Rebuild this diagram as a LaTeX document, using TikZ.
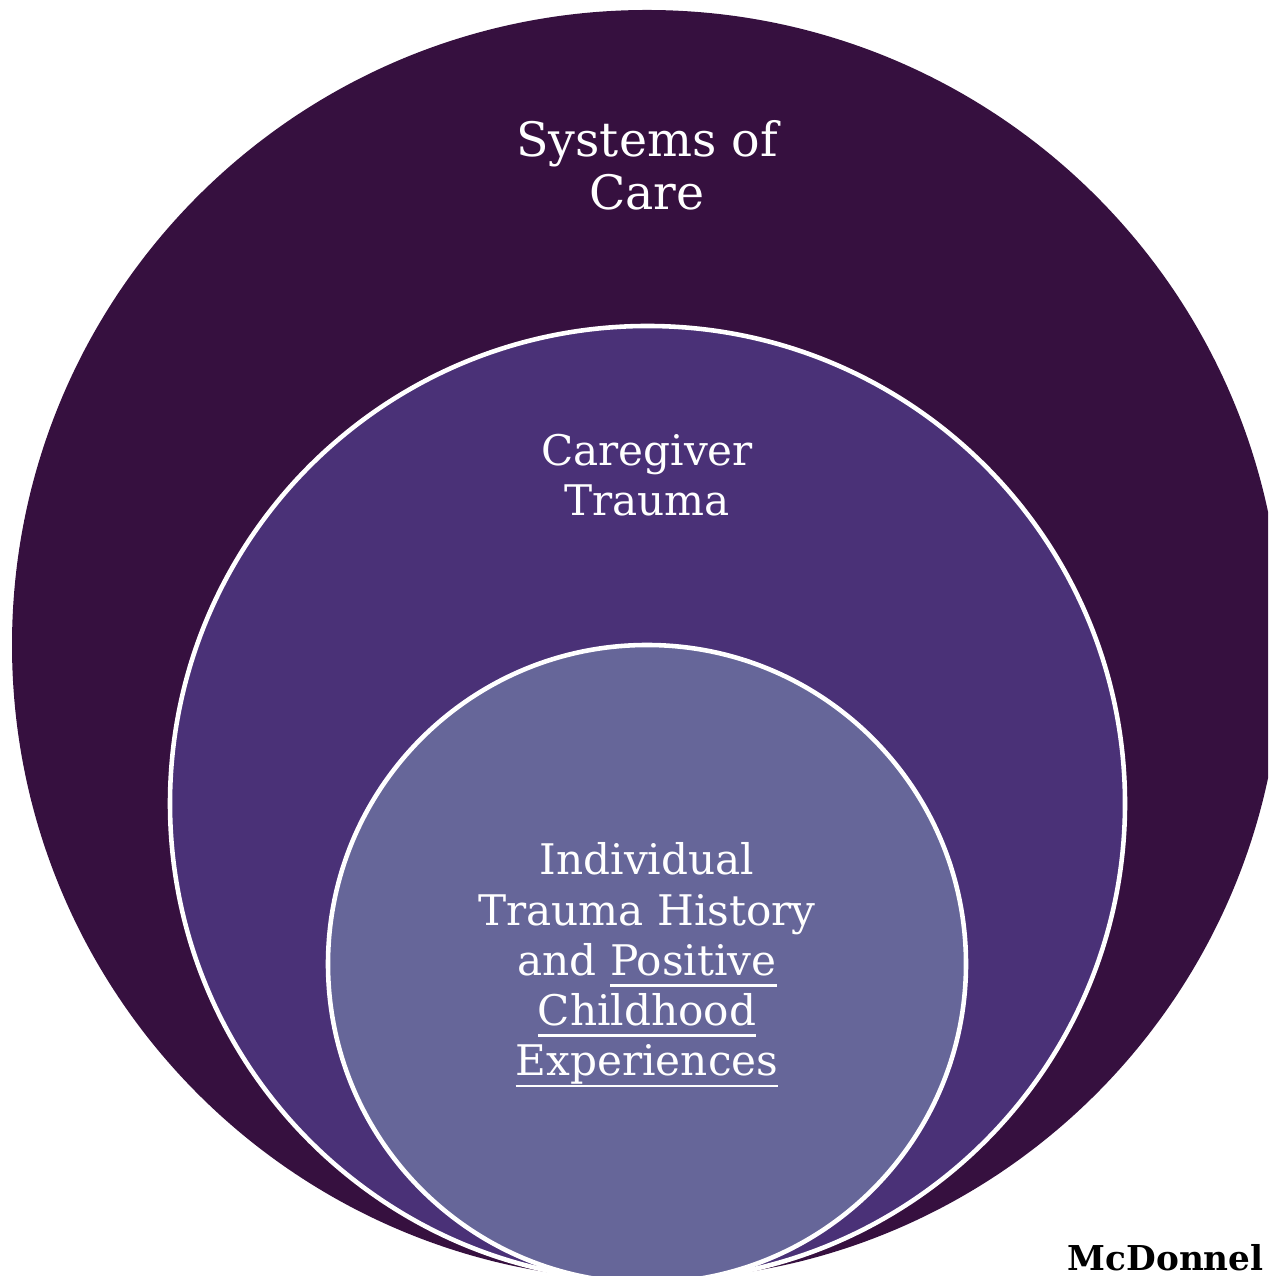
\documentclass[tikz,border=0pt]{standalone}
\usepackage{fontspec}
\setmainfont{DejaVu Serif}
\definecolor{sysfill}{HTML}{36103F}
\definecolor{carefill}{HTML}{4A3177}
\definecolor{indfill}{HTML}{666699}
\newcommand{\undl}[1]{\setbox0\hbox{#1}\rlap{\vrule height -5pt depth 6.4pt width \wd0}\box0}
\tikzset{
  ringlabel/.style={text=white, align=center, font=\fontsize{24}{28.6}\selectfont},
  ringedge/.style={draw=white, line width=2.6pt}
}
\begin{document}
\begin{tikzpicture}
\useasboundingbox (0,0) rectangle (25.36,25.52);
\clip (0,0) rectangle (25.36,25.52);
% systems of care
\fill[sysfill] (12.94,12.62) circle (12.7);
\node[ringlabel, font=\fontsize{27}{30}\selectfont] (systems) at (12.94,22.22) {Systems of\\Care};
% caregiver trauma
\filldraw[fill=carefill, ringedge] (12.95,9.45) circle (9.55);
\node[ringlabel] (caregiver) at (12.94,16.02) {Caregiver\\Trauma};
% individual history
\filldraw[fill=indfill, ringedge] (12.94,6.24) circle (6.38);
\node[ringlabel] (individual) at (12.94,6.22) {Individual\\Trauma History\\and \undl{Positive}\\\undl{Childhood}\\\undl{Experiences}};
% source
\node[anchor=south east, inner sep=0pt, font=\bfseries\fontsize{19.5}{22}\selectfont] (source) at (25.28,0.1) {McDonnel};
\end{tikzpicture}
\end{document}
